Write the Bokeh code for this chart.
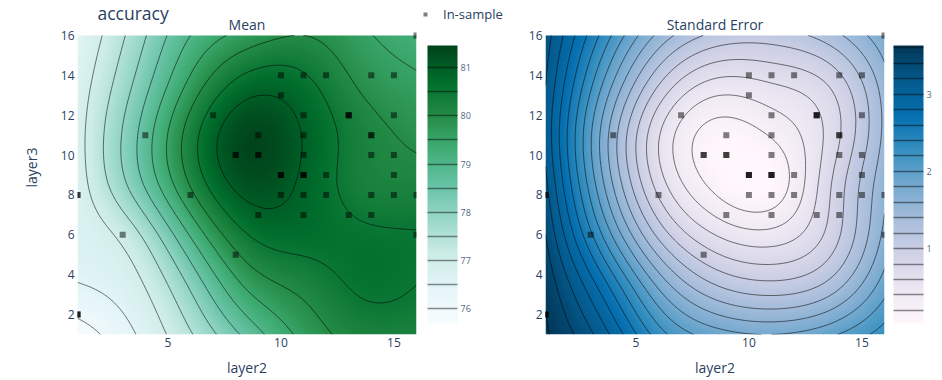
import numpy as np
from bokeh.plotting import figure
from bokeh.models import (LinearColorMapper, Label, Legend, LegendItem, ColorBar,
                          FixedTicker, Range1d)
from bokeh.layouts import row
from bokeh.embed import file_html
from bokeh.resources import INLINE

# ---------------- data ----------------
grid_x = [1, 3.5, 6, 8.5, 11, 13.5, 16]          # layer2 nodes
grid_y = [1, 3.5, 6, 8.5, 11, 13.5, 16]          # layer3 nodes

# model mean of accuracy, rows = layer3 nodes (bottom -> top), cols = layer2 nodes
mean_grid = [
    [75.70, 76.47, 77.45, 78.65, 79.65, 80.20, 80.25],
    [76.48, 76.85, 78.10, 79.60, 80.17, 80.57, 80.50],
    [76.65, 77.35, 79.05, 80.48, 80.70, 80.58, 80.52],
    [76.75, 78.20, 80.03, 81.20, 80.90, 80.30, 80.20],
    [76.80, 78.38, 80.25, 81.40, 80.97, 80.25, 79.90],
    [76.70, 78.05, 79.65, 80.75, 80.65, 79.95, 79.60],
    [76.50, 77.70, 79.00, 79.70, 80.00, 79.60, 79.25],
]
# standard error of accuracy
se_grid = [
    [3.63, 3.10, 2.30, 1.90, 1.80, 1.95, 2.30],
    [3.55, 2.70, 1.75, 1.20, 1.05, 1.25, 1.90],
    [3.40, 2.20, 1.15, 0.60, 0.47, 0.85, 1.65],
    [3.25, 1.85, 0.72, 0.14, 0.05, 0.75, 1.55],
    [3.15, 1.75, 0.62, 0.10, 0.22, 0.65, 1.45],
    [3.20, 2.00, 1.00, 0.52, 0.58, 0.80, 1.50],
    [3.30, 2.35, 1.55, 1.15, 1.10, 1.30, 1.75],
]

mean_levels = [76.0, 76.5, 77.0, 77.5, 78.0, 78.5, 79.0, 79.5, 80.0, 80.5, 81.0]
se_levels = [0.2, 0.4, 0.6, 0.8, 1.0, 1.2, 1.4, 1.6, 1.8, 2.0, 2.2, 2.4, 2.6,
             2.8, 3.0, 3.2, 3.4, 3.6]
mean_range = (75.69, 81.46)
se_range = (0.03, 3.63)
mean_ticks = [76, 77, 78, 79, 80, 81]
se_ticks = [1, 2, 3]
x_ticks = [5, 10, 15]
y_ticks = [2, 4, 6, 8, 10, 12, 14, 16]

# in-sample arms (repeated entries = overlapping arms)
sample_x = [1, 1, 1, 1, 1, 3, 4, 6, 7, 8, 8, 8, 9, 9, 9, 9, 10, 10, 10, 10, 10, 10,
            11, 11, 11, 11, 11, 11, 11, 11, 11, 12, 12, 12, 13, 13, 13, 13,
            14, 14, 14, 14, 14, 14, 15, 15, 15, 15, 15, 16, 16, 16]
sample_y = [2, 2, 2, 8, 8, 6, 11, 8, 12, 10, 10, 5, 11, 10, 10, 7, 14, 13, 9, 9, 9, 8,
            14, 12, 11, 10, 9, 9, 9, 8, 7, 14, 9, 8, 12, 12, 12, 7,
            14, 11, 11, 10, 8, 7, 14, 12, 10, 9, 8, 16, 8, 6]

BUGN = ["#f7fcfd", "#e5f5f9", "#ccece6", "#99d8c9", "#66c2a4", "#41ae76",
        "#238b45", "#006d2c", "#00441b"]
PUBU = ["#fff7fb", "#ece7f2", "#d0d1e6", "#a6bddb", "#74a9cf", "#3690c0",
        "#0570b0", "#045a8d", "#023858"]

FONT = "Open Sans"
TXT = "#2a3f5f"

# layout (pixels)
ROW_H = 380
BOTTOM = 46
FRAME_H = ROW_H - BOTTOM          # frames start at the top of the page
PLOT_TOP = 35                      # where layer3 = 16 sits
BAR_TOP, BAR_H = 45, 278


def ramp(cols, n=256):
    rgb = np.array([[int(c[i:i + 2], 16) for i in (1, 3, 5)] for c in cols], float)
    t = np.linspace(0, 1, len(cols))
    tq = np.linspace(0, 1, n)
    out = np.stack([np.interp(tq, t, rgb[:, k]) for k in range(3)], 1)
    return ["#%02x%02x%02x" % tuple(int(round(v)) for v in c) for c in out]


def natural_spline(xn, yn, xq):
    xn = np.asarray(xn, float)
    yn = np.asarray(yn, float)
    n = len(xn)
    h = np.diff(xn)
    A = np.zeros((n, n))
    b = np.zeros(n)
    A[0, 0] = 1
    A[-1, -1] = 1
    for i in range(1, n - 1):
        A[i, i - 1] = h[i - 1]
        A[i, i] = 2 * (h[i - 1] + h[i])
        A[i, i + 1] = h[i]
        b[i] = 6 * ((yn[i + 1] - yn[i]) / h[i] - (yn[i] - yn[i - 1]) / h[i - 1])
    M = np.linalg.solve(A, b)
    idx = np.clip(np.searchsorted(xn, xq) - 1, 0, n - 2)
    x0 = xn[idx]
    x1 = xn[idx + 1]
    hh = x1 - x0
    t0 = x1 - xq
    t1 = xq - x0
    return ((M[idx] * t0 ** 3 + M[idx + 1] * t1 ** 3) / (6 * hh)
            + (yn[idx] / hh - M[idx] * hh / 6) * t0
            + (yn[idx + 1] / hh - M[idx + 1] * hh / 6) * t1)


NF = 240
xs = np.linspace(1, 16, NF)
ys = np.linspace(1, 16, NF)


def surface(grid):
    G = np.array(grid, float)
    tmp = np.array([natural_spline(grid_x, r, xs) for r in G])
    Z = np.array([natural_spline(grid_y, tmp[:, j], ys) for j in range(NF)]).T
    return Z


def plain_axis(ax):
    ax.major_tick_line_color = None
    ax.minor_tick_line_color = None
    ax.major_tick_out = 0
    ax.major_tick_in = 0
    ax.minor_tick_out = 0
    ax.minor_tick_in = 0
    ax.axis_line_color = None
    ax.major_label_standoff = 3
    ax.major_label_text_font = FONT
    ax.major_label_text_font_size = "12px"
    ax.major_label_text_color = TXT
    ax.axis_label_text_font = FONT
    ax.axis_label_text_font_size = "14px"
    ax.axis_label_text_font_style = "normal"
    ax.axis_label_text_color = TXT


def label(p, x, y, text, size, align):
    p.add_layout(Label(x=x, y=y, x_units="screen", y_units="screen", text=text,
                       text_align=align, text_baseline="middle", text_font=FONT,
                       text_font_size=size, text_color=TXT))


def panel(grid, levels, palette, rng, width, mbl, mbr, title, ylabel):
    # y range extended above 16 so that the frame also holds the titles
    y_top = 16 + PLOT_TOP * 15.0 / (FRAME_H - PLOT_TOP)
    p = figure(width=width, height=ROW_H, x_range=Range1d(1, 16),
               y_range=Range1d(1, y_top), title=None,
               min_border_left=mbl, min_border_right=mbr, min_border_top=0,
               min_border_bottom=BOTTOM, output_backend="svg", toolbar_location=None)
    for ax in (p.xaxis[0], p.yaxis[0]):
        plain_axis(ax)
    p.xaxis.ticker = FixedTicker(ticks=x_ticks)
    p.yaxis.ticker = FixedTicker(ticks=y_ticks)
    p.grid.visible = False
    p.outline_line_color = None
    p.xaxis.axis_label = "layer2"
    p.xaxis.axis_label_standoff = 8
    if ylabel:
        p.yaxis.axis_label = ylabel
        p.yaxis.axis_label_standoff = 17
    Z = surface(grid)
    mapper = LinearColorMapper(palette=ramp(palette), low=rng[0], high=rng[1])
    p.image(image=[Z], x=1, y=1, dw=15, dh=15, color_mapper=mapper)
    p.contour(x=xs, y=ys, z=Z, levels=levels, fill_color=None,
              line_color="black", line_alpha=0.55, line_width=1)
    p.scatter(x=sample_x, y=sample_y, marker="square", size=6, fill_color="black",
              fill_alpha=0.5, line_color=None)
    label(p, 339 / 2, FRAME_H - 24, title, "14px", "center")
    return p, mapper


def cbar(mapper, levels, ticks, width, bar_x):
    c = figure(width=width, height=ROW_H, x_range=Range1d(0, 1), y_range=Range1d(0, 1),
               x_axis_type=None, y_axis_type=None, title=None, min_border_left=0,
               min_border_right=0, min_border_top=0, min_border_bottom=BOTTOM,
               output_backend="svg", toolbar_location=None)
    c.outline_line_color = None
    c.grid.visible = False
    minor = [v for v in levels if v not in ticks]
    cb = ColorBar(color_mapper=mapper, ticker=FixedTicker(ticks=ticks, minor_ticks=minor),
                  orientation="vertical", width=30, height=BAR_H,
                  location=(bar_x, FRAME_H - BAR_TOP - BAR_H), padding=0, margin=0,
                  major_tick_in=30, major_tick_out=0, minor_tick_in=30, minor_tick_out=0,
                  major_tick_line_color="black", major_tick_line_alpha=0.45,
                  major_tick_line_width=1.3, minor_tick_line_color="black",
                  minor_tick_line_alpha=0.45, minor_tick_line_width=1.3,
                  bar_line_color=None, border_line_color=None,
                  background_fill_alpha=0, label_standoff=3,
                  major_label_text_font=FONT, major_label_text_font_size="9px",
                  major_label_text_color="#506784")
    c.add_layout(cb, "center")
    return c


pA, mapA = panel(mean_grid, mean_levels, BUGN, mean_range, 420, 77, 4, "Mean", "layer3")
label(pA, 20, FRAME_H - 12.5, "accuracy", "17.5px", "left")
cA = cbar(mapA, mean_levels, mean_ticks, 100, 7)

# legend swatch renderer (its point lies outside the visible range)
swatch = cA.scatter(x=[-5], y=[-5], marker="square", size=7,
                    fill_color="black", fill_alpha=0.5, line_color=None)
legend = Legend(items=[LegendItem(label="In-sample", renderers=[swatch])],
                location=(0, FRAME_H - 24), padding=0, margin=0, spacing=0,
                glyph_width=10, glyph_height=20, label_standoff=13,
                label_text_font=FONT, label_text_font_size="13px",
                label_text_color=TXT, border_line_color=None,
                background_fill_alpha=0)
cA.add_layout(legend, "center")

pB, mapB = panel(se_grid, se_levels, PUBU, se_range, 369, 25, 5, "Standard Error", None)
cB = cbar(mapB, se_levels, se_ticks, 53, 4)

layout = row(pA, cA, pB, cB)
open("out.html", "w").write(file_html(layout, INLINE))
